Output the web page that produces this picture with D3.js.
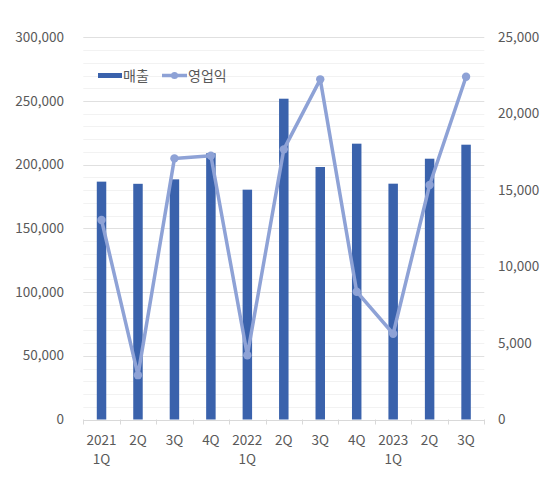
<!DOCTYPE html>
<html>
<head>
<meta charset="utf-8">
<script src="https://cdn.jsdelivr.net/npm/d3@7"></script>
<style>
  body { margin: 0; background: #fff; }
  text { font-family: "Noto Sans CJK KR", "Noto Sans", sans-serif; }
</style>
</head>
<body>
<svg id="chart" width="550" height="478"></svg>
<script>
// quarters (two-line labels)
const quarters = ["2021 1Q", "2Q", "3Q", "4Q", "2022 1Q", "2Q", "3Q", "4Q", "2023 1Q", "2Q", "3Q"];
// 매출 (left axis)
const sales = [186700, 185000, 188500, 209000, 180400, 251800, 198200, 216500, 185100, 204700, 215700];
// 영업익 (right axis)
const profit = [13050, 2900, 17080, 17250, 4200, 17670, 22250, 8360, 5610, 15340, 22420];
const leftTicks = [0, 50000, 100000, 150000, 200000, 250000, 300000];
const rightTicks = [0, 5000, 10000, 15000, 20000, 25000];

const barColor = "#3A62AC";
const lineColor = "#8EA2D6";
const textColor = "#595959";

const svg = d3.select("#chart");
const plotLeft = 83.3, plotRight = 484.3, plotTop = 37.3, plotBottom = 419.5;

const x = d3.scaleBand().domain(d3.range(quarters.length)).range([plotLeft, plotRight]);
const yL = d3.scaleLinear().domain([0, 300000]).range([plotBottom, plotTop]);
const yR = d3.scaleLinear().domain([0, 25000]).range([plotBottom, plotTop]);

// minor gridlines every 10,000
svg.append("g").selectAll("line")
  .data(d3.range(10000, 300001, 10000).filter(v => v % 50000 !== 0))
  .join("line")
  .attr("x1", plotLeft).attr("x2", plotRight)
  .attr("y1", d => Math.round(yL(d)) + 0.5).attr("y2", d => Math.round(yL(d)) + 0.5)
  .attr("stroke", "#F2F2F2");

// major gridlines
svg.append("g").selectAll("line")
  .data(leftTicks.filter(v => v > 0))
  .join("line")
  .attr("x1", plotLeft).attr("x2", plotRight)
  .attr("y1", d => Math.round(yL(d)) + 0.5).attr("y2", d => Math.round(yL(d)) + 0.5)
  .attr("stroke", "#E0E0E0");

// bars
const bw = x.bandwidth() * 0.26;
svg.append("g").selectAll("rect")
  .data(sales)
  .join("rect")
  .attr("x", (d, i) => x(i) + x.bandwidth() / 2 - bw / 2)
  .attr("width", bw)
  .attr("y", d => yL(d))
  .attr("height", d => plotBottom - yL(d))
  .attr("fill", barColor);

// x axis line + ticks
svg.append("line")
  .attr("x1", plotLeft).attr("x2", plotRight)
  .attr("y1", Math.round(plotBottom) + 0.5).attr("y2", Math.round(plotBottom) + 0.5)
  .attr("stroke", "#D9D9D9");
svg.append("g").selectAll("line")
  .data(d3.range(quarters.length + 1))
  .join("line")
  .attr("x1", i => Math.round(plotLeft + i * x.step()) + 0.5)
  .attr("x2", i => Math.round(plotLeft + i * x.step()) + 0.5)
  .attr("y1", plotBottom).attr("y2", plotBottom + 5)
  .attr("stroke", "#D9D9D9");

// x labels
const xl = svg.append("g").selectAll("text")
  .data(quarters)
  .join("text")
  .attr("text-anchor", "middle")
  .attr("fill", textColor)
  .attr("font-size", 13.5);
xl.each(function(d, i) {
  const parts = d.split(" ");
  const t = d3.select(this);
  const cx = x(i) + x.bandwidth() / 2;
  t.append("tspan").attr("x", cx).attr("y", 445).text(parts[0]);
  if (parts.length === 2) {
    t.append("tspan").attr("x", cx).attr("y", 464).text(parts[1]);
  }
});

// left axis labels
svg.append("g").selectAll("text")
  .data(leftTicks)
  .join("text")
  .attr("x", 64).attr("y", d => yL(d) + 4.5)
  .attr("text-anchor", "end")
  .attr("fill", textColor).attr("font-size", 13.5)
  .text(d => d3.format(",")(d));

// right axis labels
svg.append("g").selectAll("text")
  .data(rightTicks)
  .join("text")
  .attr("x", 498).attr("y", d => yR(d) + 4.5)
  .attr("text-anchor", "start")
  .attr("fill", textColor).attr("font-size", 13.5)
  .text(d => d3.format(",")(d));

// line
const line = d3.line()
  .x((d, i) => x(i) + x.bandwidth() / 2)
  .y(d => yR(d));
svg.append("path")
  .datum(profit)
  .attr("d", line)
  .attr("fill", "none")
  .attr("stroke", lineColor)
  .attr("stroke-width", 3.5)
  .attr("stroke-linejoin", "round");
svg.append("g").selectAll("circle")
  .data(profit)
  .join("circle")
  .attr("cx", (d, i) => x(i) + x.bandwidth() / 2)
  .attr("cy", d => yR(d))
  .attr("r", 4.2)
  .attr("fill", lineColor);

// legend
const lg = svg.append("g");
lg.append("rect").attr("x", 98).attr("y", 73).attr("width", 24).attr("height", 5).attr("fill", barColor);
lg.append("text").attr("x", 123).attr("y", 80.5).attr("fill", textColor).attr("font-size", 14).text("매출");
lg.append("line").attr("x1", 162).attr("x2", 187).attr("y1", 75.5).attr("y2", 75.5)
  .attr("stroke", lineColor).attr("stroke-width", 3.5);
lg.append("circle").attr("cx", 174.5).attr("cy", 75.5).attr("r", 3.5).attr("fill", lineColor);
lg.append("text").attr("x", 188).attr("y", 80.5).attr("fill", textColor).attr("font-size", 14).text("영업익");
</script>
</body>
</html>
